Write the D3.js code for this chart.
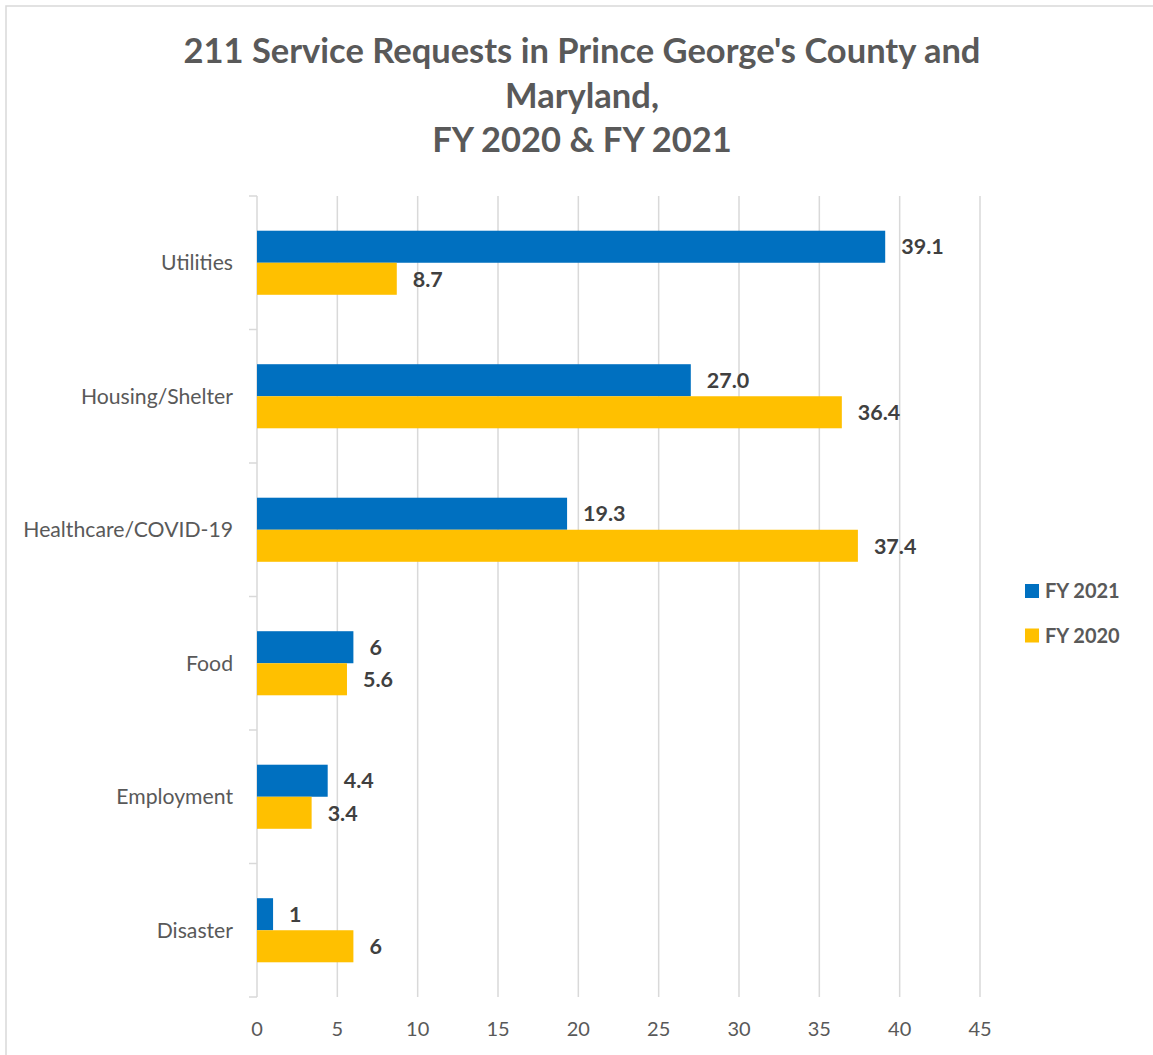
<!DOCTYPE html>
<html>
<head>
<meta charset="utf-8">
<script src="https://cdn.jsdelivr.net/npm/d3@7"></script>
<style>
  html, body { margin: 0; padding: 0; background: #ffffff; }
  svg { display: block; }
</style>
</head>
<body>
<svg id="chart" width="1153" height="1055"></svg>
<script>
// Service request shares by category (top to bottom)
const categories = ["Utilities", "Housing/Shelter", "Healthcare/COVID-19", "Food", "Employment", "Disaster"];
const seriesNames = ["FY 2021", "FY 2020"];
const fy2021Labels = ["39.1", "27.0", "19.3", "6", "4.4", "1"];
const fy2020Labels = ["8.7", "36.4", "37.4", "5.6", "3.4", "6"];
const xTicks = [0, 5, 10, 15, 20, 25, 30, 35, 40, 45];
const titleLines = ["211 Service Requests in Prince George's County and", "Maryland,", "FY 2020 & FY 2021"];
const seriesColors = ["#0070C0", "#FFC000"];

const rows = categories.map((c, i) => ({
  category: c,
  bars: [
    { series: seriesNames[0], label: fy2021Labels[i], value: +fy2021Labels[i] },
    { series: seriesNames[1], label: fy2020Labels[i], value: +fy2020Labels[i] }
  ]
}));

const svg = d3.select("#chart");
const FONT = "Lato, 'Open Sans', sans-serif";

// Outer chart frame
svg.append("rect")
  .attr("x", 6).attr("y", 6)
  .attr("width", 1170).attr("height", 1070)
  .attr("fill", "#ffffff")
  .attr("stroke", "#d9d9d9").attr("stroke-width", 1.5);

// Title
const title = svg.append("g")
  .attr("font-family", FONT)
  .attr("font-weight", 700)
  .attr("font-size", 34.5)
  .attr("fill", "#595959")
  .attr("text-anchor", "middle");
const titleBaselines = [63, 108, 152];
title.selectAll("text").data(titleLines).join("text")
  .attr("x", 582)
  .attr("y", (d, i) => titleBaselines[i])
  .text(d => d);

// Scales
const x = d3.scaleLinear().domain([0, 45]).range([257, 980]);
const y = d3.scaleBand().domain(categories).range([196, 997])
  .paddingInner(0.52).paddingOuter(0.26);
const ySub = d3.scaleBand().domain(seriesNames).range([0, y.bandwidth()]);
const color = d3.scaleOrdinal().domain(seriesNames).range(seriesColors);

const [yTop, yBottom] = y.range();

// Vertical gridlines
svg.append("g")
  .selectAll("line").data(xTicks).join("line")
  .attr("x1", d => x(d)).attr("x2", d => x(d))
  .attr("y1", yTop).attr("y2", yBottom)
  .attr("stroke", "#d9d9d9").attr("stroke-width", 1.5);

// Category boundary ticks on the left axis
const boundaries = d3.range(categories.length + 1).map(i => yTop + i * y.step());
svg.append("g")
  .selectAll("line").data(boundaries).join("line")
  .attr("x1", x(0) - 8).attr("x2", x(0))
  .attr("y1", d => d).attr("y2", d => d)
  .attr("stroke", "#d9d9d9").attr("stroke-width", 1.5);

// X tick labels
svg.append("g")
  .attr("font-family", FONT)
  .attr("font-size", 20)
  .attr("fill", "#595959")
  .attr("text-anchor", "middle")
  .selectAll("text").data(xTicks).join("text")
  .attr("x", d => x(d))
  .attr("y", 1036)
  .text(d => d);

// Category labels
svg.append("g")
  .attr("font-family", FONT)
  .attr("font-size", 21.2)
  .attr("fill", "#595959")
  .attr("text-anchor", "end")
  .selectAll("text").data(categories).join("text")
  .attr("x", 233)
  .attr("y", d => y(d) + y.bandwidth() / 2)
  .attr("dy", "0.35em")
  .text(d => d);

// Bars and value labels
const groups = svg.append("g").selectAll("g").data(rows).join("g")
  .attr("transform", d => `translate(0,${y(d.category)})`);

groups.selectAll("rect").data(d => d.bars).join("rect")
  .attr("x", x(0))
  .attr("y", d => ySub(d.series))
  .attr("width", d => x(d.value) - x(0))
  .attr("height", ySub.bandwidth())
  .attr("fill", d => color(d.series));

groups.selectAll("text").data(d => d.bars).join("text")
  .attr("x", d => x(d.value) + 16)
  .attr("y", d => ySub(d.series) + ySub.bandwidth() / 2)
  .attr("dy", "0.36em")
  .attr("font-family", FONT)
  .attr("font-weight", 700)
  .attr("font-size", 21.5)
  .attr("fill", "#404040")
  .text(d => d.label);

// Legend
const legend = svg.append("g")
  .selectAll("g").data(seriesNames).join("g")
  .attr("transform", (d, i) => `translate(1025,${584 + i * 44.5})`);
legend.append("rect")
  .attr("width", 14).attr("height", 14)
  .attr("fill", d => color(d));
legend.append("text")
  .attr("x", 20).attr("y", 7)
  .attr("dy", "0.36em")
  .attr("font-family", FONT)
  .attr("font-weight", 700)
  .attr("font-size", 20)
  .attr("fill", "#595959")
  .text(d => d);
</script>
</body>
</html>
